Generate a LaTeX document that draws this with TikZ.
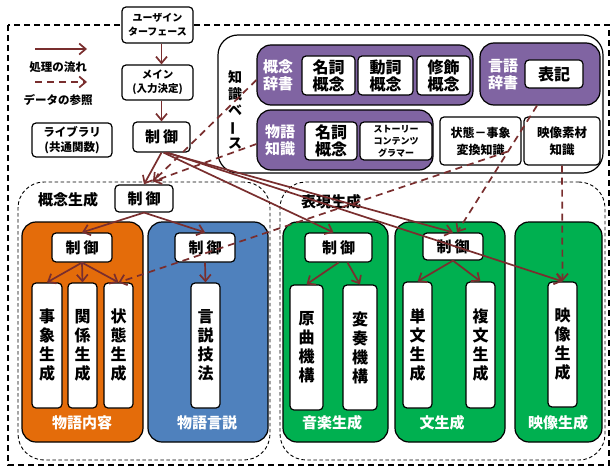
\documentclass[tikz,border=0pt]{standalone}
\usepackage{fontspec}
\usepackage{graphicx}
\setmainfont{Noto Sans CJK JP}
\usetikzlibrary{arrows.meta}
\definecolor{arrc}{RGB}{121,46,46}
\definecolor{kpurple}{RGB}{128,100,162}
\definecolor{korange}{RGB}{228,108,10}
\definecolor{kblue}{RGB}{79,129,189}
\definecolor{kgreen}{RGB}{0,176,80}
\newcommand\fz[2]{\fontsize{#1}{#2}\selectfont}
\begin{document}
\begin{tikzpicture}[x=1pt,y=-1pt,
  wbox/.style={draw=black, fill=white, rounded corners=4pt, line width=1.2pt, align=center, inner sep=0pt, font=\bfseries},
  panel/.style={draw=black, rounded corners=14pt, line width=1.2pt, inner sep=0pt},
  region/.style={draw=black, dash pattern=on 3.5pt off 2.5pt, line width=0.9pt, rounded corners=26pt, inner sep=0pt},
  plab/.style={text=white, font=\bfseries\fz{15}{17}, align=center, inner sep=0pt},
  blab/.style={font=\bfseries\fz{14}{16}, align=center, inner sep=0pt},
  vtxt/.style={wbox, font=\bfseries\fz{16}{19}, minimum height=125pt},
  ctlbox/.style={wbox, font=\bfseries\fz{15}{15}},
  arr/.style={draw=arrc, line width=1.7pt, -{Straight Barb[length=6.5pt,width=11pt]}},
  darr/.style={arr, dash pattern=on 7pt off 5pt}
]
\useasboundingbox (0,0) rectangle (612,468);
% outer dashed frame
\draw[line width=1.4pt, dash pattern=on 6pt off 4pt] (8,25) rectangle (609,465);

% top column
\node[wbox, font=\bfseries\fz{10}{13.5}, minimum width=71pt, minimum height=36pt] (ui) at (157.5,25) {ユーザイン\\ターフェース};
\node[wbox, font=\bfseries\fz{10.5}{14}, minimum width=71pt, minimum height=35pt] (main) at (157.5,82.5) {メイン\\(入力決定)};
\node[ctlbox, minimum width=57pt, minimum height=30pt] (ctl) at (161.5,137) {制\kern3pt 御};
\node[wbox, font=\bfseries\fz{11.5}{15}, minimum width=80pt, minimum height=34pt] (lib) at (72,140) {ライブラリ\\(共通関数)};

% legend
\coordinate (l1a) at (35,49); \coordinate (l1b) at (87,49);
\coordinate (l2a) at (35,82); \coordinate (l2b) at (87,82);
\node[font=\bfseries\fz{11.5}{13}] (lt1) at (58,67) {処理の流れ};
\node[font=\bfseries\fz{11.5}{13}] (lt2) at (58,100) {データの参照};

% knowledge base
\node[draw=black, fill=white, line width=1.2pt, rounded corners=20pt, minimum width=385pt, minimum height=138pt, inner sep=0pt] (kb) at (410.5,104) {};
\node[font=\bfseries\fz{14}{16.5}, align=center, inner sep=0pt] (kbt) at (235,110) {知\\識\\ベ\\\rotatebox[origin=c]{90}{ー}\\ス};

\node[panel, fill=kpurple, minimum width=216pt, minimum height=60pt] (gjp) at (365,75) {};
\node[plab] (gjl) at (278,75) {概念\\辞書};
\node[wbox, font=\bfseries\fz{16}{17}, minimum width=53pt, minimum height=39pt] (n1) at (328.5,75.5) {名詞\\概念};
\node[wbox, font=\bfseries\fz{16}{17}, minimum width=55pt, minimum height=39pt] (n2) at (385.5,75.5) {動詞\\概念};
\node[wbox, font=\bfseries\fz{16}{17}, minimum width=53pt, minimum height=39pt] (n3) at (443.5,75.5) {修飾\\概念};

\node[panel, fill=kpurple, minimum width=120pt, minimum height=62pt] (gengo) at (540,74) {};
\node[plab] (gnl) at (503,75) {言語\\辞書};
\node[wbox, font=\bfseries\fz{16}{17}, minimum width=58pt, minimum height=28pt] (hyoki) at (554,74) {表記};

\node[panel, fill=kpurple, minimum width=176pt, minimum height=60pt] (mkp) at (345,140) {};
\node[plab] (mkl) at (280,140) {物語\\知識};
\node[wbox, font=\bfseries\fz{16}{17}, minimum width=52pt, minimum height=38pt] (mn) at (331,141) {名詞\\概念};
\node[wbox, font=\bfseries\fz{9}{12}, minimum width=72pt, minimum height=38pt] (story) at (396,141) {ストーリー\\コンテンツ\\グラマー};

\node[wbox, font=\bfseries\fz{12}{17}, minimum width=81pt, minimum height=48pt] (state) at (480.5,141) {状態－事象\\変換知識};
\node[wbox, font=\bfseries\fz{12.5}{17}, minimum width=76pt, minimum height=48pt] (eizo) at (562,141) {映像素材\\知識};

% generation regions
\node[region, minimum width=252pt, minimum height=278pt] (gsr) at (144,321) {};
\node[region, minimum width=325pt, minimum height=278pt] (hsr) at (442.5,321) {};
\node[blab, font=\bfseries\fz{15}{16}] (gsl) at (68,200) {概念生成};
\node[blab, font=\bfseries\fz{15}{16}] (hsl) at (331,202) {表現生成};
\node[ctlbox, minimum width=58pt, minimum height=27pt] (gctl) at (144,198.5) {制\kern3pt 御};

% story content
\node[panel, fill=korange, minimum width=121pt, minimum height=220pt] (mcp) at (82.5,332) {};
\node[ctlbox, minimum width=60pt, minimum height=29pt] (mctl) at (82,247.5) {制\kern3pt 御};
\node[vtxt, minimum width=30pt] (jisho) at (47,345.5) {事\\象\\生\\成};
\node[vtxt, minimum width=29pt] (kankei) at (82.5,345.5) {関\\係\\生\\成};
\node[vtxt, minimum width=29pt] (jotai) at (118.5,345.5) {状\\態\\生\\成};
\node[plab] (mcl) at (82,423) {物語内容};

% story discourse
\node[panel, fill=kblue, minimum width=120pt, minimum height=220pt] (mdp) at (208,332) {};
\node[ctlbox, minimum width=60pt, minimum height=29pt] (dctl) at (205,247.5) {制\kern3pt 御};
\node[vtxt, minimum width=29pt] (gizetsu) at (205.5,345.5) {言\\説\\技\\法};
\node[plab] (mdl) at (207,423) {物語言説};

% music
\node[panel, fill=kgreen, minimum width=105pt, minimum height=220pt] (onp) at (335.5,332) {};
\node[ctlbox, minimum width=67pt, minimum height=29pt] (octl) at (338.5,247.5) {制\kern3pt 御};
\node[vtxt, minimum width=33pt] (genkyoku) at (306.5,347.5) {原\\曲\\機\\構};
\node[vtxt, minimum width=34pt] (hensou) at (360,347.5) {変\\奏\\機\\構};
\node[plab] (onl) at (332,423) {音楽生成};

% sentence
\node[panel, fill=kgreen, minimum width=110pt, minimum height=220pt] (bnp) at (450,332) {};
\node[ctlbox, minimum width=60pt, minimum height=27pt] (bctl) at (453,246.5) {制\kern3pt 御};
\node[vtxt, minimum width=29pt, minimum height=126pt] (tanbun) at (417.5,345) {単\\文\\生\\成};
\node[vtxt, minimum width=29pt, minimum height=126pt] (fukubun) at (480.5,345) {複\\文\\生\\成};
\node[plab] (bnl) at (442,423) {文生成};

% video
\node[panel, fill=kgreen, minimum width=87pt, minimum height=220pt] (ezp) at (558.5,332) {};
\node[vtxt, minimum width=29pt] (eizogen) at (562.5,344.5) {映\\像\\生\\成};
\node[plab] (ezl) at (558,423) {映像生成};

% legend arrows
\draw[arr] (l1a) -- (l1b);
\draw[darr] (l2a) -- (l2b);

% process flow
\draw[arr] (ui.south -| ctl.center) -- (main.north -| ctl.center);
\draw[arr] (main.south -| ctl.center) -- (ctl.north);
\draw[arr] (ctl.south) -- (gctl.north);
\draw[arr] ([xshift=2pt]ctl.south) -- ([xshift=-5pt]octl.north);
\draw[arr] ([xshift=4pt]ctl.south) -- (bctl.north);
\draw[arr] ([xshift=6pt]ctl.south) -- (eizogen.north);
\draw[arr] (gctl.south) -- (mctl.north);
\draw[arr] (gctl.south) -- (dctl.north);
\draw[arr] (mctl.south) -- (jisho.north);
\draw[arr] (mctl.south) -- (kankei.north);
\draw[arr] (mctl.south) -- (jotai.north);
\draw[arr] (dctl.south) -- (gizetsu.north);
\draw[arr] (octl.south) -- (genkyoku.north);
\draw[arr] ([xshift=9pt]octl.south) -- (hensou.north);
\draw[arr] (bctl.south) -- (tanbun.north);
\draw[arr] (bctl.south) -- (fukubun.north);

% data references
\draw[darr] ([yshift=-5pt]gjp.west) -- ([xshift=9pt,yshift=3pt]gctl.north);
\draw[darr] ([yshift=-4pt]mkp.west) -- ([xshift=9pt,yshift=3pt]gctl.north);
\draw[darr] ([xshift=-3pt]gengo.south) -- ([xshift=4pt]bctl.north);
\draw[darr] ([xshift=-14pt,yshift=14pt]state.south east) -- (jotai.north);
\draw[darr] (eizo.south) -- (eizogen.north);
\end{tikzpicture}
\end{document}
